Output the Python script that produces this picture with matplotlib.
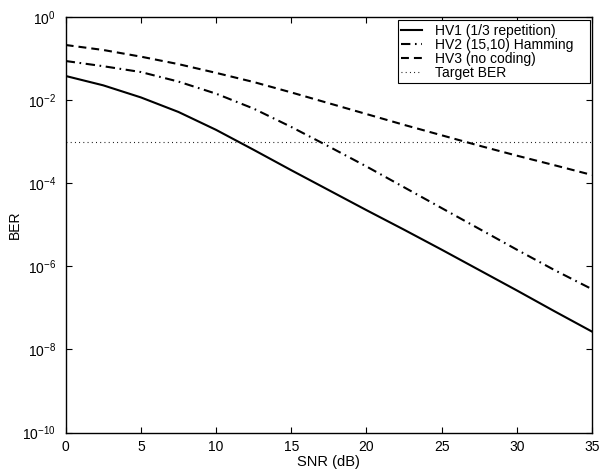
import matplotlib
matplotlib.use("Agg")
import matplotlib.pyplot as plt
import numpy as np

plt.rcParams['font.family'] = ['Liberation Sans', 'DejaVu Sans']
plt.rcParams['font.size'] = 10

# SNR grid (dB) and log10(BER) read per packet type
snr = [0, 2.5, 5, 7.5, 10, 12.5, 15, 17.5, 20, 22.5, 25, 27.5, 30, 32.5, 35]
hv1_log = [-1.425, -1.65, -1.94, -2.29, -2.72, -3.20, -3.69, -4.17, -4.65,
           -5.12, -5.60, -6.09, -6.58, -7.08, -7.57]
hv2_log = [-1.065, -1.19, -1.33, -1.56, -1.85, -2.21, -2.65, -3.12, -3.60,
           -4.10, -4.60, -5.10, -5.60, -6.09, -6.55]
hv3_log = [-0.68, -0.80, -0.96, -1.14, -1.35, -1.57, -1.82, -2.08, -2.34,
           -2.60, -2.85, -3.10, -3.34, -3.57, -3.805]
target_ber = 1e-3

labels = ['HV1 (1/3 repetition)', 'HV2 (15,10) Hamming', 'HV3 (no coding)', 'Target BER']

fig = plt.figure(figsize=(6.02, 4.72), dpi=100)
ax = fig.add_axes([0.1091, 0.0833, 0.8743, 0.8813])

snr = np.array(snr)
ax.semilogy(snr, 10.0 ** np.array(hv1_log), '-', color='k', lw=1.5, label=labels[0])
l2, = ax.semilogy(snr, 10.0 ** np.array(hv2_log), color='k', lw=1.5, label=labels[1])
l2.set_dashes([4.5, 2.2, 0.8, 2.2])
l3, = ax.semilogy(snr, 10.0 ** np.array(hv3_log), color='k', lw=1.5, label=labels[2])
l3.set_dashes([3.8, 2.4])
l4, = ax.semilogy([0, 35], [target_ber, target_ber], color='k', lw=0.8, label=labels[3])
l4.set_dashes([0.8, 3.0])

ax.set_xlim(0, 35)
ax.set_ylim(1e-10, 1)
ax.set_xticks(np.arange(0, 36, 5))
ax.set_yticks([1e0, 1e-2, 1e-4, 1e-6, 1e-8, 1e-10])
ax.yaxis.set_minor_locator(matplotlib.ticker.NullLocator())
ax.tick_params(direction='in', length=4, width=0.8, top=True, right=True)
ax.tick_params(axis='x', pad=5)
ax.tick_params(axis='y', pad=7)
for s in ax.spines.values():
    s.set_linewidth(1.0)

ax.set_xlabel('SNR (dB)', fontsize=10.5, labelpad=1)
ax.set_ylabel('BER', labelpad=0)

# legend box stretched to a fixed width in the upper right corner
leg = ax.legend(loc='upper left', bbox_to_anchor=(0.6314, 0.992, 0.364, 0.0),
                mode='expand', fontsize=10, frameon=True, fancybox=False,
                edgecolor='k', framealpha=1, borderpad=0.25, labelspacing=0.0,
                handlelength=1.5, handletextpad=0.9, borderaxespad=0)
leg.get_frame().set_linewidth(0.8)

fig.savefig('out.png', dpi=100)
